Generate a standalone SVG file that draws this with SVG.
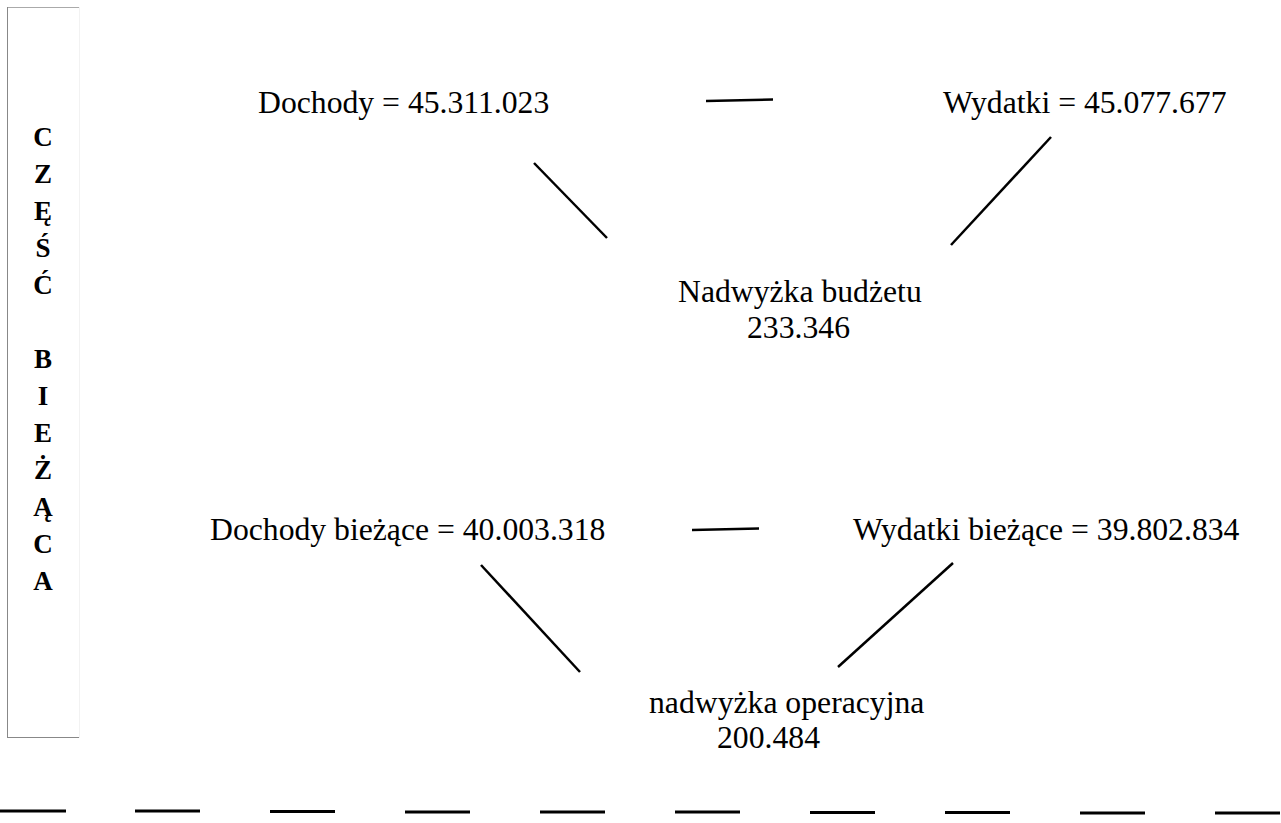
<svg xmlns="http://www.w3.org/2000/svg" width="1281" height="823" viewBox="0 0 1281 823">
<style>
.t{font-family:"Liberation Serif","Times New Roman",serif;font-size:31.7px;fill:#000}
.v{font-family:"Liberation Serif","Times New Roman",serif;font-size:27px;font-weight:bold;fill:#000;text-anchor:middle}
.c{stroke:#000;stroke-width:2.5;fill:none}
.d{stroke:#000;stroke-width:3;fill:none}
</style>
<rect width="1281" height="823" fill="#fff"/>
<g id="side">
<line x1="7" y1="7.5" x2="80" y2="7.5" stroke="#aaa" stroke-width="1"/>
<line x1="7.5" y1="7" x2="7.5" y2="738" stroke="#888" stroke-width="1"/>
<line x1="7" y1="737.5" x2="80" y2="737.5" stroke="#888" stroke-width="1"/>
<line x1="79.5" y1="7" x2="79.5" y2="738" stroke="#f2f2f2" stroke-width="1"/>
<text class="v" x="43" y="146">C</text>
<text class="v" x="43" y="183">Z</text>
<text class="v" x="43" y="220">Ę</text>
<text class="v" x="43" y="257">Ś</text>
<text class="v" x="43" y="294">Ć</text>
<text class="v" x="43" y="368">B</text>
<text class="v" x="43" y="405">I</text>
<text class="v" x="43" y="442">E</text>
<text class="v" x="43" y="479">Ż</text>
<text class="v" x="43" y="516">Ą</text>
<text class="v" x="43" y="553">C</text>
<text class="v" x="43" y="590">A</text>
</g>
<g id="dochody"><text class="t" x="258" y="113">Dochody = 45.311.023</text></g>
<g id="wydatki"><text class="t" x="943" y="113">Wydatki = 45.077.677</text></g>
<g id="nadwyzka-budzetu"><text class="t" x="678" y="302">Nadwyżka budżetu</text><text class="t" x="747" y="338">233.346</text></g>
<g id="dochody-biezace"><text class="t" x="210" y="540">Dochody bieżące = 40.003.318</text></g>
<g id="wydatki-biezace"><text class="t" x="853" y="540">Wydatki bieżące = 39.802.834</text></g>
<g id="nadwyzka-operacyjna"><text class="t" x="649" y="713">nadwyżka operacyjna</text><text class="t" x="717" y="748">200.484</text></g>
<g id="connectors">
<line class="c" x1="706" y1="101" x2="773" y2="99.5"/>
<line class="c" x1="534" y1="163" x2="607" y2="238"/>
<line class="c" x1="1051" y1="137" x2="951" y2="245"/>
<line class="c" x1="692" y1="530" x2="759" y2="528.5"/>
<line class="c" x1="481" y1="565" x2="580" y2="672"/>
<line class="c" x1="953" y1="563" x2="838" y2="667"/>
</g>
<g id="dashes">
<line class="d" x1="0" y1="811" x2="66" y2="811"/>
<line class="d" x1="135" y1="811" x2="200" y2="811"/>
<line class="d" x1="270" y1="811.5" x2="335" y2="811.5"/>
<line class="d" x1="405" y1="812" x2="470" y2="812"/>
<line class="d" x1="540" y1="812" x2="605" y2="812"/>
<line class="d" x1="675" y1="812" x2="740" y2="812"/>
<line class="d" x1="810" y1="812.5" x2="875" y2="812.5"/>
<line class="d" x1="945" y1="812.5" x2="1010" y2="812.5"/>
<line class="d" x1="1080" y1="813" x2="1145" y2="813"/>
<line class="d" x1="1215" y1="813" x2="1280" y2="813"/>
</g>
</svg>
